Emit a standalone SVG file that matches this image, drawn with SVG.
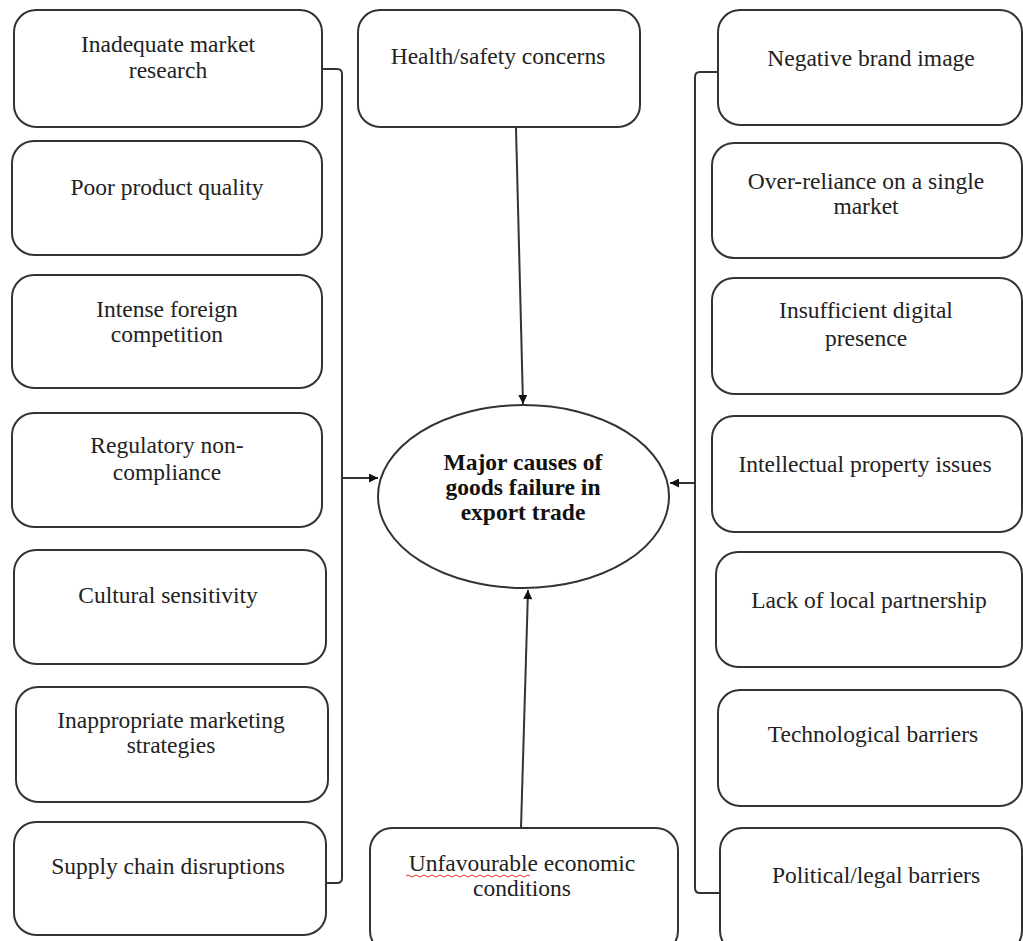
<svg xmlns="http://www.w3.org/2000/svg" width="1023" height="941" viewBox="0 0 1023 941">
<style>
.box{fill:#fff;stroke:#333;stroke-width:2}
.t{font-family:"Liberation Serif","Times New Roman",serif;font-size:23.5px;fill:#222;text-anchor:middle}
.b{font-weight:bold;fill:#111}
.ln{fill:none;stroke:#333;stroke-width:2}
</style>
<defs>
<marker id="ah" viewBox="0 0 10 10" refX="10" refY="5" markerWidth="11" markerHeight="9" markerUnits="userSpaceOnUse" orient="auto"><path d="M0,0 L10,5 L0,10 z" fill="#111"/></marker>
</defs>
<rect width="1023" height="941" fill="#fff"/>
<g id="connectors">
<path class="ln" d="M322,69 H337 Q342,69 342,74 V878 Q342,883 337,883 H322"/>
<path class="ln" d="M342,478 H378" marker-end="url(#ah)"/>
<path class="ln" d="M719,72 H700 Q695,72 695,77 V888 Q695,893 700,893 H719"/>
<path class="ln" d="M695,483 H670" marker-end="url(#ah)"/>
<path class="ln" d="M516,128 L523,404" marker-end="url(#ah)"/>
<path class="ln" d="M521,828 L528,590" marker-end="url(#ah)"/>
</g>
<g id="center">
<ellipse class="box" cx="523.5" cy="496.5" rx="145.5" ry="91.5"/>
<text class="t b" x="523" y="470">Major causes of</text>
<text class="t b" x="523" y="495">goods failure in</text>
<text class="t b" x="523" y="520">export trade</text>
</g>
<g id="l1"><rect class="box" x="14" y="10" width="308" height="117" rx="22"/><text class="t" x="168" y="52">Inadequate market</text><text class="t" x="168" y="78">research</text></g>
<g id="l2"><rect class="box" x="12" y="141" width="310" height="114" rx="22"/><text class="t" x="167" y="195">Poor product quality</text></g>
<g id="l3"><rect class="box" x="12" y="275" width="310" height="113" rx="22"/><text class="t" x="167" y="317">Intense foreign</text><text class="t" x="167" y="342">competition</text></g>
<g id="l4"><rect class="box" x="12" y="413" width="310" height="114" rx="22"/><text class="t" x="167" y="453">Regulatory non-</text><text class="t" x="167" y="480">compliance</text></g>
<g id="l5"><rect class="box" x="14" y="550" width="312" height="114" rx="22"/><text class="t" x="168" y="603">Cultural sensitivity</text></g>
<g id="l6"><rect class="box" x="16" y="687" width="312" height="115" rx="22"/><text class="t" x="171" y="728">Inappropriate marketing</text><text class="t" x="171" y="753">strategies</text></g>
<g id="l7"><rect class="box" x="14" y="822" width="312" height="113" rx="22"/><text class="t" x="168" y="874">Supply chain disruptions</text></g>
<g id="top"><rect class="box" x="358" y="10" width="282" height="117" rx="22"/><text class="t" x="498" y="64">Health/safety concerns</text></g>
<g id="bottom"><rect class="box" x="370" y="828" width="308" height="125" rx="22"/><text class="t" x="522" y="871">Unfavourable economic</text><text class="t" x="522" y="896">conditions</text><path d="M406,876 q2,-2 4,0 t4,0 t4,0 t4,0 t4,0 t4,0 t4,0 t4,0 t4,0 t4,0 t4,0 t4,0 t4,0 t4,0 t4,0 t4,0 t4,0 t4,0 t4,0 t4,0 t4,0 t4,0 t4,0 t4,0 t4,0 t4,0 t4,0 t4,0 t4,0 t4,0 t4,0" fill="none" stroke="#d33" stroke-width="1"/></g>
<g id="r1"><rect class="box" x="718" y="10" width="304" height="115" rx="22"/><text class="t" x="871" y="66">Negative brand image</text></g>
<g id="r2"><rect class="box" x="712" y="143" width="310" height="115" rx="22"/><text class="t" x="866" y="189">Over-reliance on a single</text><text class="t" x="866" y="214">market</text></g>
<g id="r3"><rect class="box" x="712" y="278" width="310" height="116" rx="22"/><text class="t" x="866" y="318">Insufficient digital</text><text class="t" x="866" y="346">presence</text></g>
<g id="r4"><rect class="box" x="712" y="416" width="310" height="116" rx="22"/><text class="t" x="865" y="472">Intellectual  property issues</text></g>
<g id="r5"><rect class="box" x="716" y="552" width="306" height="115" rx="22"/><text class="t" x="869" y="608">Lack of local partnership</text></g>
<g id="r6"><rect class="box" x="718" y="690" width="304" height="116" rx="22"/><text class="t" x="873" y="742">Technological barriers</text></g>
<g id="r7"><rect class="box" x="720" y="828" width="302" height="125" rx="22"/><text class="t" x="876" y="883">Political/legal  barriers</text></g>
</svg>
